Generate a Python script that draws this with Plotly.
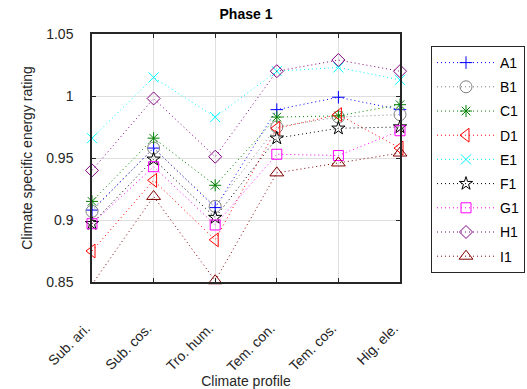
import plotly.graph_objects as go

categories = ["Sub. ari.", "Sub. cos.", "Tro. hum.", "Tem. con.", "Tem. cos.", "Hig. ele."]
series_names = ["A1", "B1", "C1", "D1", "E1", "F1", "G1", "H1", "I1"]

A1 = [0.908, 0.958, 0.910, 0.989, 0.999, 0.989]
B1 = [0.907, 0.958, 0.911, 0.975, 0.983, 0.985]
C1 = [0.915, 0.966, 0.928, 0.983, 0.984, 0.993]
D1 = [0.875, 0.932, 0.884, 0.974, 0.985, 0.958]
E1 = [0.966, 1.015, 0.983, 1.020, 1.023, 1.013]
F1 = [0.897, 0.949, 0.902, 0.966, 0.974, 0.975]
G1 = [0.897, 0.943, 0.896, 0.953, 0.952, 0.972]
H1 = [0.940, 0.998, 0.951, 1.020, 1.029, 1.020]
I1 = [0.848, 0.919, 0.851, 0.938, 0.946, 0.954]

values = [A1, B1, C1, D1, E1, F1, G1, H1, I1]
colors = ["#0000FF", "#808080", "#008000", "#FF0000", "#00FFFF", "#000000", "#FF00FF", "#800080", "#800000"]
symbols = ["cross-thin-open", "circle-open", "asterisk-open", "triangle-left-open", "x-thin-open",
           "star-open", "square-open", "diamond-open", "triangle-up-open"]
sizes = [9, 12, 10, 12, 10, 10, 10, 10, 12]

y_ticks = [0.85, 0.9, 0.95, 1.0, 1.05]
y_ticktext = ["0.85", "0.9", "0.95", "1", "1.05"]

axis_col = "#262626"
fig = go.Figure()
for name, vals, c, s, sz in zip(series_names, values, colors, symbols, sizes):
    fig.add_trace(go.Scatter(
        x=categories, y=vals, name=name, mode="lines+markers",
        line=dict(color=c, width=1, dash="1px,3px"),
        marker=dict(symbol=s, size=sz, color=c, line=dict(color=c, width=1)),
        cliponaxis=False, legendgroup=name,
    ))

fig.update_layout(
    width=527, height=389,
    margin=dict(l=92, r=127, t=34, b=107, autoexpand=False),
    paper_bgcolor="white", plot_bgcolor="white",
    font=dict(family="Liberation Sans, Arial, sans-serif", size=14, color=axis_col),
    title=dict(text="<b>Phase 1</b>", x=(92 + 400) / 2 / 527, xanchor="center",
               y=1 - 14 / 389, yanchor="middle", yref="container",
               font=dict(size=14, color="#000000")),
    showlegend=True,
    legend=dict(x=(431 - 92) / 308, xanchor="left", y=(282 - 46) / 248, yanchor="top",
                bordercolor=axis_col, borderwidth=1, bgcolor="white",
                font=dict(size=14, color="#000000"), traceorder="grouped",
                tracegroupgap=3, itemwidth=58),
)
fig.update_xaxes(
    type="category", range=[0, 5], tickangle=-45, automargin=False,
    showgrid=True, gridcolor="#dfdfdf", gridwidth=1,
    showline=True, linecolor=axis_col, linewidth=1.5, mirror="allticks",
    ticks="inside", ticklen=4, tickcolor=axis_col, ticklabelstandoff=31, ticklabelshift=-6,
    tickfont=dict(size=14),
    title=dict(text="Climate profile", standoff=11, font=dict(size=14, color=axis_col)),
    zeroline=False,
)
fig.update_yaxes(
    range=[0.85, 1.05], tickvals=y_ticks, ticktext=y_ticktext, automargin=False,
    showgrid=True, gridcolor="#dfdfdf", gridwidth=1,
    showline=True, linecolor=axis_col, linewidth=1.5, mirror="allticks",
    ticks="inside", ticklen=4, tickcolor=axis_col, ticklabelstandoff=14,
    tickfont=dict(size=14),
    title=dict(text="Climate specific energy rating", standoff=10, font=dict(size=14, color=axis_col)),
    zeroline=False,
)
fig.write_html("out.html")
